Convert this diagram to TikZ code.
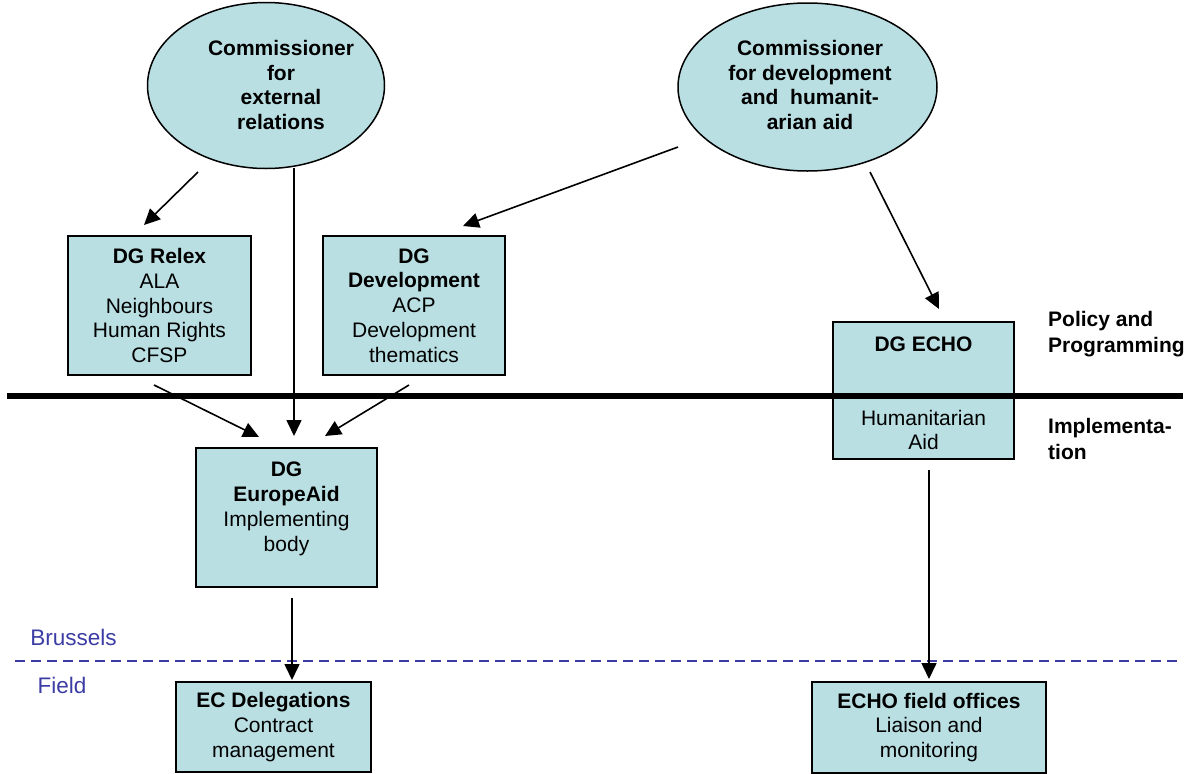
\documentclass[tikz,border=0pt]{standalone}
\usepackage{fontspec}
\setmainfont{Liberation Sans}
\usetikzlibrary{shapes.geometric,arrows.meta,calc}
\definecolor{boxfill}{RGB}{185,223,227}
\definecolor{fieldblue}{RGB}{60,60,165}
\begin{document}
\begin{tikzpicture}[x=1pt,y=-1pt,
  every node/.style={font=\fontsize{21}{24.8}\selectfont},
  box/.style={draw=black,line width=2pt,fill=boxfill,rectangle,inner sep=0pt,align=center},
  oval/.style={draw=black,line width=1.5pt,fill=boxfill,ellipse,inner sep=0pt,align=center,font=\fontsize{21}{24.8}\selectfont\bfseries},
  txt/.style={inner sep=0pt,align=center},
  arr/.style={line width=1.6pt,-{Triangle[length=16pt,width=15pt]}},
  side/.style={inner sep=0pt,align=left,anchor=west,font=\fontsize{21}{25.5}\selectfont\bfseries},
  place/.style={inner sep=0pt,text=fieldblue,font=\fontsize{22.5}{26}\selectfont}]
\useasboundingbox (0,0) rectangle (1187,774);

% ellipses
\node[oval,minimum width=237pt,minimum height=166pt] (e1) at (266,85.5) {};
\node[txt,font=\fontsize{21}{24.8}\selectfont\bfseries] (e1t) at (281,85)
  {Commissioner\\for\\external\\relations};
\node[oval,minimum width=259pt,minimum height=168pt] (e2) at (807.5,87) {};
\node[txt,font=\fontsize{21}{24.8}\selectfont\bfseries] (e2t) at (810,85)
  {Commissioner\\for development\\and\ \ humanit-\\arian aid};

% boxes
\node[box,minimum width=183pt,minimum height=139pt] (relex) at (159.5,305.5)
  {\textbf{DG Relex}\\ALA\\Neighbours\\Human Rights\\CFSP};
\node[box,minimum width=182pt,minimum height=139pt] (dev) at (414,305.5)
  {\textbf{DG}\\\textbf{Development}\\ACP\\Development\\thematics};
\node[box,minimum width=181pt,minimum height=137pt] (echo) at (923.5,390.5) {};
\node[txt,font=\fontsize{21}{24.8}\selectfont\bfseries] (echot) at (923.5,344) {DG ECHO};
\node[txt] (echob) at (923.5,430) {Humanitarian\\Aid};
\node[box,minimum width=181pt,minimum height=139pt] (eaid) at (286.5,517.5) {};
\node[txt] (eaidt) at (286.5,509) {\textbf{DG}\\\textbf{EuropeAid}\\Implementing\\body};
\node[box,minimum width=195pt,minimum height=90pt] (ecdel) at (273.5,727)
  {\textbf{EC Delegations}\\Contract\\management};
\node[box,minimum width=234pt,minimum height=91pt] (echof) at (929,727.5)
  {\textbf{ECHO field offices}\\Liaison and\\monitoring};

% separators
\draw[line width=6pt] (7,396) -- (1183,396);
\draw[fieldblue,line width=1.8pt,dash pattern=on 10pt off 6pt] (15,661) -- (1183,661);

% side labels
\node[side] (pp) at (1048,334) {Policy and\\Programming};
\node[side] (im) at (1048,439) {Implementa-\\tion};
\node[place] (bru) at (73.5,637) {Brussels};
\node[place] (fld) at (62,685) {Field};

% arrows
\draw[arr] ($(e1.center)+(-68,86.5)$) -- ($(relex.north)+(-15.5,-10)$);
\draw[arr] ($(e1.center)+(28,82.5)$) -- ($(eaid.north)+(7.5,-11)$);
\draw[arr] ($(relex.south)+(-5.5,9)$) -- ($(eaid.north)+(-27.5,-10)$);
\draw[arr] ($(dev.south)+(-5,9)$) -- ($(eaid.north)+(38.5,-11)$);
\draw[arr] ($(e2.center)+(-129.5,60)$) -- ($(dev.north)+(49,-9)$);
\draw[arr] ($(e2.center)+(62.5,85)$) -- ($(echo.north)+(15.5,-12)$);
\draw[arr] ($(echo.south)+(5.5,10)$) -- ($(echof.north)+(0,-2)$);
\draw[arr] ($(eaid.south)+(5.5,10)$) -- ($(ecdel.north)+(18.5,-1)$);
\end{tikzpicture}
\end{document}
